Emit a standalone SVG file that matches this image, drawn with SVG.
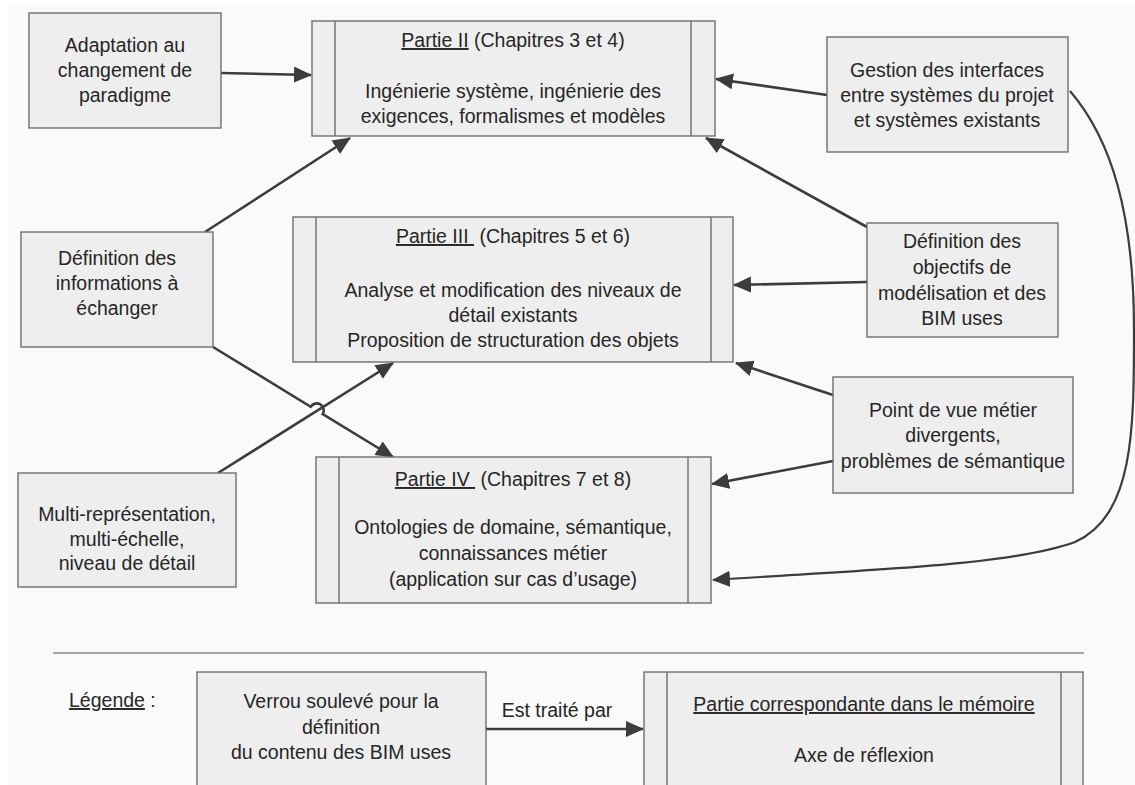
<svg xmlns="http://www.w3.org/2000/svg" width="1135" height="785" viewBox="0 0 1135 785">
<defs>
<style>
.bg{fill:#fafafa}
.box{fill:#eeeeee;stroke:#6e6e6e;stroke-width:1.4}
.bar{stroke:#6e6e6e;stroke-width:1.4}
.t{font-family:"Liberation Sans",Arial,sans-serif;font-size:19.5px;fill:#262626;text-anchor:middle;white-space:pre}
.u{text-decoration:underline}
.c{fill:none;stroke:#3c3c3c;stroke-width:2.6}
.cv{fill:none;stroke:#3c3c3c;stroke-width:2.2}
.sep{stroke:#8a8a8a;stroke-width:1.4}
</style>
<marker id="ah" markerUnits="userSpaceOnUse" markerWidth="20" markerHeight="18" refX="17" refY="8" orient="auto">
<path d="M0,0 L18,8 L0,16 z" fill="#3c3c3c"/>
</marker>
</defs>
<rect x="0" y="0" width="1135" height="785" fill="#ffffff"/>
<rect class="bg" x="8" y="5" width="1127" height="780"/>

<g id="connectors">
<line class="c" x1="221" y1="73" x2="311" y2="75" marker-end="url(#ah)"/>
<line class="c" x1="827" y1="95" x2="716" y2="79" marker-end="url(#ah)"/>
<line class="c" x1="205" y1="232" x2="350" y2="138" marker-end="url(#ah)"/>
<line class="c" x1="867" y1="227" x2="706" y2="138" marker-end="url(#ah)"/>
<line class="c" x1="867" y1="282" x2="734" y2="285" marker-end="url(#ah)"/>
<line class="c" x1="833" y1="395" x2="736" y2="363" marker-end="url(#ah)"/>
<line class="c" x1="833" y1="461" x2="712" y2="484" marker-end="url(#ah)"/>
<line class="c" x1="218" y1="473" x2="393" y2="363" marker-end="url(#ah)"/>
<path class="c" d="M213,347 L310.7,406.8 A7,7 0 0 1 322.7,414.1 L393,457" marker-end="url(#ah)"/>
<path class="cv" d="M1070,91 C1112,140 1134,215 1134,330 C1134,430 1134,515 1075,542 C1010,566 860,570 713,580" marker-end="url(#ah)"/>
<line class="c" x1="486" y1="729" x2="643" y2="729" marker-end="url(#ah)"/>
</g>

<g id="n-adaptation">
<rect class="box" x="29" y="13" width="192" height="115"/>
<text class="t" x="125" y="52">Adaptation au</text>
<text class="t" x="125" y="77">changement de</text>
<text class="t" x="125" y="102">paradigme</text>
</g>

<g id="n-partie2">
<rect class="box" x="312" y="21" width="403" height="115"/>
<line class="bar" x1="335" y1="21" x2="335" y2="136"/>
<line class="bar" x1="691" y1="21" x2="691" y2="136"/>
<text class="t" x="513" y="47"><tspan class="u">Partie II</tspan> (Chapitres 3 et 4)</text>
<text class="t" x="513" y="98">Ingénierie système, ingénierie des</text>
<text class="t" x="513" y="123">exigences, formalismes et modèles</text>
</g>

<g id="n-gestion">
<rect class="box" x="827" y="37" width="241" height="115"/>
<text class="t" x="947" y="77">Gestion des interfaces</text>
<text class="t" x="947" y="102">entre systèmes du projet</text>
<text class="t" x="947" y="127">et systèmes existants</text>
</g>

<g id="n-definfo">
<rect class="box" x="21" y="232" width="192" height="115"/>
<text class="t" x="117" y="265">Définition des</text>
<text class="t" x="117" y="290">informations à</text>
<text class="t" x="117" y="315">échanger</text>
</g>

<g id="n-partie3">
<rect class="box" x="293" y="217" width="440" height="145"/>
<line class="bar" x1="316" y1="217" x2="316" y2="362"/>
<line class="bar" x1="711" y1="217" x2="711" y2="362"/>
<text class="t" x="513" y="243"><tspan class="u">Partie III </tspan> (Chapitres 5 et 6)</text>
<text class="t" x="513" y="297">Analyse et modification des niveaux de</text>
<text class="t" x="513" y="322">détail existants</text>
<text class="t" x="513" y="347">Proposition de structuration des objets</text>
</g>

<g id="n-defobj">
<rect class="box" x="867" y="223" width="191" height="114"/>
<text class="t" x="962" y="248">Définition des</text>
<text class="t" x="962" y="274">objectifs de</text>
<text class="t" x="962" y="300">modélisation et des</text>
<text class="t" x="962" y="325">BIM uses</text>
</g>

<g id="n-pointvue">
<rect class="box" x="833" y="377" width="240" height="116"/>
<text class="t" x="953" y="417">Point de vue métier</text>
<text class="t" x="953" y="442">divergents,</text>
<text class="t" x="953" y="468">problèmes de sémantique</text>
</g>

<g id="n-multi">
<rect class="box" x="18" y="473" width="218" height="114"/>
<text class="t" x="127" y="521">Multi-représentation,</text>
<text class="t" x="127" y="546">multi-échelle,</text>
<text class="t" x="127" y="570">niveau de détail</text>
</g>

<g id="n-partie4">
<rect class="box" x="316" y="457" width="395" height="146"/>
<line class="bar" x1="339" y1="457" x2="339" y2="603"/>
<line class="bar" x1="688" y1="457" x2="688" y2="603"/>
<text class="t" x="513" y="486"><tspan class="u">Partie IV </tspan> (Chapitres 7 et 8)</text>
<text class="t" x="513" y="534">Ontologies de domaine, sémantique,</text>
<text class="t" x="513" y="560">connaissances métier</text>
<text class="t" x="513" y="586">(application sur cas d’usage)</text>
</g>

<g id="legend">
<line class="sep" x1="53" y1="653" x2="1084" y2="653"/>
<text class="t" x="69" y="707" style="text-anchor:start"><tspan class="u">Légende</tspan> :</text>
<g id="legend-verrou">
<rect class="box" x="197" y="672" width="289" height="120"/>
<text class="t" x="341" y="708">Verrou soulevé pour la</text>
<text class="t" x="341" y="734">définition</text>
<text class="t" x="341" y="759">du contenu des BIM uses</text>
</g>
<text class="t" x="557" y="717">Est traité par</text>
<g id="legend-partie">
<rect class="box" x="644" y="672" width="439" height="120"/>
<line class="bar" x1="667" y1="672" x2="667" y2="792"/>
<line class="bar" x1="1061" y1="672" x2="1061" y2="792"/>
<text class="t" x="864" y="711"><tspan class="u">Partie correspondante dans le mémoire</tspan></text>
<text class="t" x="864" y="762">Axe de réflexion</text>
</g>
</g>
</svg>
